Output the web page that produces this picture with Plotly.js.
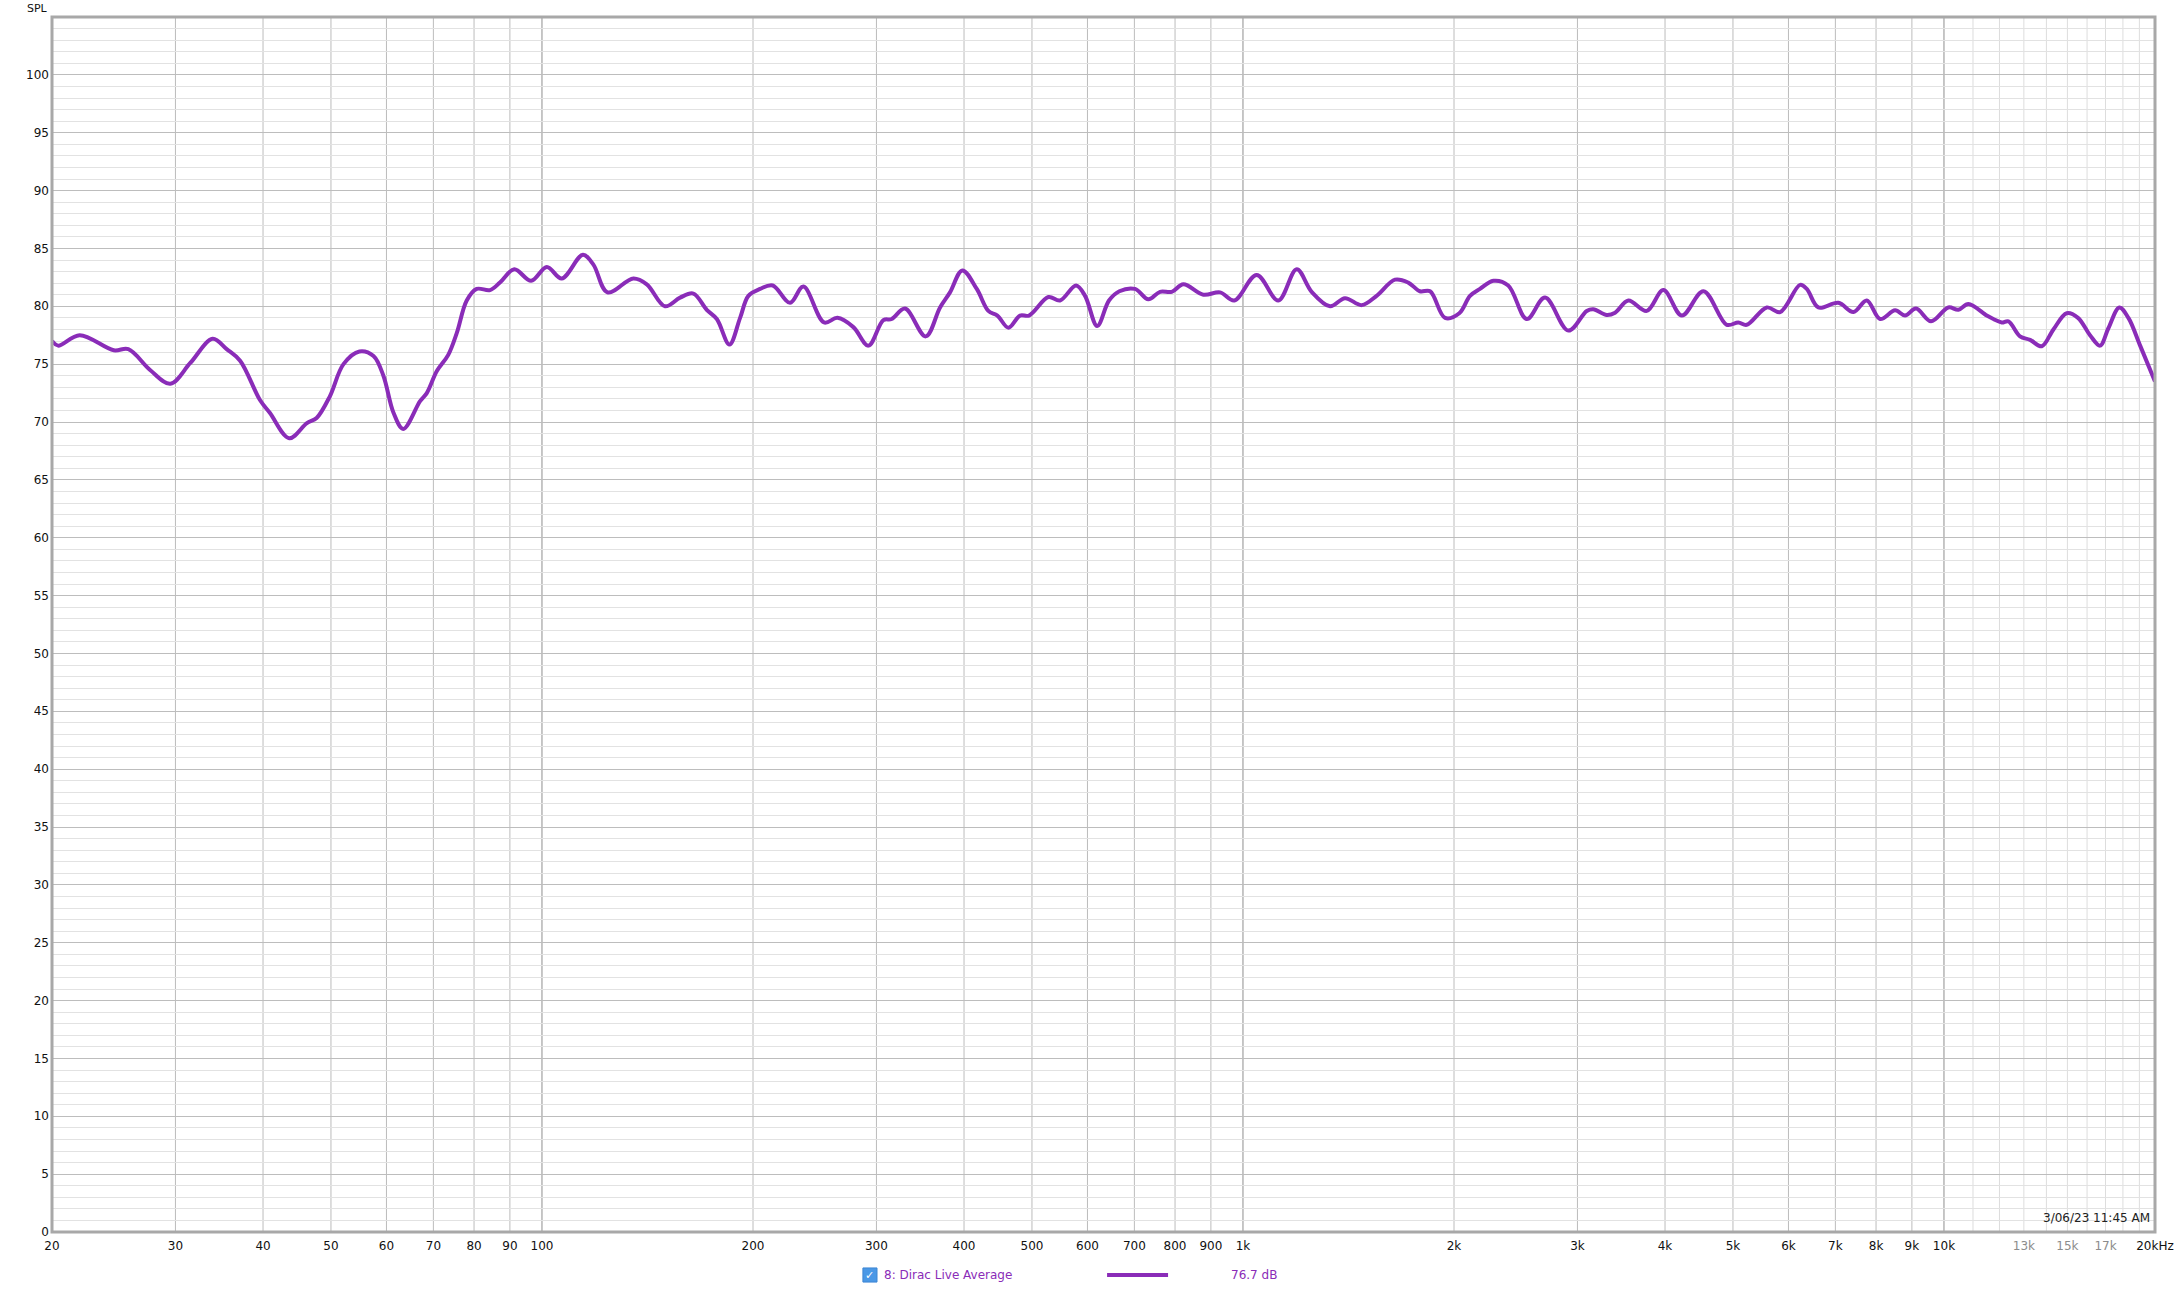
<!DOCTYPE html>
<html>
<head>
<meta charset="utf-8">
<script src="https://cdn.plot.ly/plotly-3.0.1.min.js"></script>
<style>
html,body{margin:0;padding:0;background:#fff;}
#chart{width:2180px;height:1292px;}
</style>
</head>
<body>
<div id="chart"></div>
<script>
// Frequency (Hz) and SPL (dB)
const freq = [20, 20.4, 21.9, 24.5, 25.7, 27.6, 29.5, 31.5, 33.9, 35.5, 37.1, 39.6, 40.9, 43.6, 46.2, 47.7, 49.8, 52.1, 54.9, 57.5, 59.4, 61.4, 63.4,
  67.0, 68.5, 70.8, 73.5, 75.6, 78.1, 80.7, 84.3, 87.1, 91.3, 96.5, 101.6, 106.7, 114.4, 118.4, 124.0, 135.0, 141.1, 149.8, 157.4, 164.4, 171.8, 177.6, 185.1, 191.7, 197.0,
  204.7, 213.4, 225.9, 236.0, 252.6, 263.9, 278.1, 292.2, 306.9, 315.4, 329.5, 352.7, 369.7, 382.0, 397.8, 417.1, 433.3, 446.3, 462.8, 480.8, 495.2, 527.8, 548.3, 578.0, 595.3, 619.5,
  644, 666.3, 701.5, 732.8, 761.5, 791.4, 822.2, 878, 927.4, 971.9, 1046, 1123, 1193, 1253, 1331, 1398, 1477, 1551, 1648, 1721, 1788, 1849, 1942,
  2035, 2108, 2178, 2276, 2390, 2540, 2697, 2912, 3093, 3160, 3303, 3395, 3546, 3767, 3979, 4227, 4538, 4899, 5089, 5231, 5588, 5838, 6234,
  6372, 6620, 7069, 7426, 7760, 8107, 8516, 8800, 9123, 9584, 10144, 10484, 10834, 11508, 11761, 12090, 12357, 12838, 13268, 13789, 14325, 14968, 15530, 16156, 16696, 17159, 17791, 18327, 19048, 20000];
const spl = [77.0, 76.6, 77.5, 76.2, 76.3, 74.5, 73.3, 75.1, 77.2, 76.3, 75.3, 71.9, 70.8, 68.6, 69.9, 70.35, 72.2, 75.0, 76.1, 75.7, 74.0, 70.8, 69.4,
  71.8, 72.5, 74.4, 75.8, 77.7, 80.5, 81.5, 81.4, 82.05, 83.2, 82.2, 83.4, 82.4, 84.45, 83.6, 81.2, 82.4, 81.9, 80.0, 80.75, 81.1, 79.7, 78.9, 76.7, 79.0, 80.9,
  81.5, 81.8, 80.3, 81.7, 78.6, 79.0, 78.2, 76.6, 78.8, 78.9, 79.8, 77.4, 79.9, 81.2, 83.1, 81.5, 79.6, 79.2, 78.15, 79.2, 79.2, 80.8, 80.5, 81.8, 80.9, 78.3,
  80.5, 81.3, 81.5, 80.6, 81.25, 81.25, 81.9, 81.0, 81.2, 80.5, 82.7, 80.5, 83.2, 81.25, 80.0, 80.7, 80.1, 80.9, 82.3, 82.05, 81.3, 81.3, 79.0,
  79.4, 80.9, 81.5, 82.2, 81.8, 78.9, 80.75, 77.9, 79.6, 79.75, 79.25, 79.45, 80.5, 79.6, 81.4, 79.2, 81.3, 78.4, 78.6, 78.4, 79.9, 79.5, 81.85,
  81.5, 79.9, 80.3, 79.5, 80.5, 78.9, 79.65, 79.2, 79.8, 78.7, 79.9, 79.7, 80.2, 79.2, 78.9, 78.6, 78.7, 77.4, 77.1, 76.55, 78.0, 79.4, 79.0, 77.5, 76.6, 78.1, 79.9, 79.0, 76.6, 73.5];

const seriesName = "8: Dirac Live Average";
const seriesLevel = "76.7 dB";
const dateText = "3/06/23 11:45 AM";

const tickVals = [20,30,40,50,60,70,80,90,100,200,300,400,500,600,700,800,900,1000,2000,3000,4000,5000,6000,7000,8000,9000,10000,13000,15000,17000,20000];
const tickText = ["20","30","40","50","60","70","80","90","100","200","300","400","500","600","700","800","900","1k","2k","3k","4k","5k","6k","7k","8k","9k","10k",
  '<span style="fill:#8c8c8c">13k</span>','<span style="fill:#8c8c8c">15k</span>','<span style="fill:#8c8c8c">17k</span>',"20kHz"];
const yTicks = [0,5,10,15,20,25,30,35,40,45,50,55,60,65,70,75,80,85,90,95,100];

const gridMid = [30,40,50,60,70,80,90,200,300,400,500,600,700,800,900,2000,3000,4000,5000,6000,7000,8000,9000];
const gridDecade = [100,1000,10000];
const gridFine = [11000,12000,13000,14000,15000,16000,17000,18000,19000];

const purple = '#8a2cb8';
const shapes = [];
function vline(v, color){
  shapes.push({type:'line', xref:'x', yref:'paper', x0:v, x1:v, y0:0, y1:1, layer:'between', line:{color:color, width:1}});
}
gridFine.forEach(v => vline(v, '#dddddd'));
gridMid.forEach(v => vline(v, '#bcbcbc'));
gridDecade.forEach(v => vline(v, '#8e8e8e'));

// frame with a soft shadow
shapes.push({type:'rect', xref:'paper', yref:'paper', x0:0, x1:1, y0:0, y1:1, layer:'above', line:{color:'#a8a8a8', width:3}});
// legend: checkbox + line sample
shapes.push({type:'rect', xref:'paper', yref:'paper', x0:0.3856, x1:0.3923, y0:-0.0412, y1:-0.0296, layer:'above', fillcolor:'#4a98e6', line:{color:'#3d86d4', width:1}});
shapes.push({type:'line', xref:'paper', yref:'paper', x0:0.5017, x1:0.5307, y0:-0.0354, y1:-0.0354, layer:'above', line:{color:purple, width:4}});

const font = 'DejaVu Sans, Verdana, sans-serif';

const data = [{
  x: freq, y: spl, type:'scatter', mode:'lines',
  line:{color:purple, width:4, shape:'spline', smoothing:1},
  hoverinfo:'x+y', showlegend:false
}];

const layout = {
  width:2180, height:1292,
  margin:{l:52, r:25, t:17, b:60, pad:0},
  paper_bgcolor:'#ffffff', plot_bgcolor:'#ffffff',
  font:{family:font, size:12, color:'#111'},
  showlegend:false,
  xaxis:{
    type:'log', range:[Math.log10(20), Math.log10(20000)],
    tickmode:'array', tickvals:tickVals, ticktext:tickText,
    showgrid:false, zeroline:false, showline:false, ticks:'',
    ticklabelstandoff:5,
    tickfont:{family:font, size:12, color:'#111'}, fixedrange:true
  },
  yaxis:{
    range:[0,105], tickmode:'array', tickvals:yTicks,
    showgrid:true, gridcolor:'#bdbdbd', gridwidth:1,
    minor:{tickmode:'linear', tick0:0, dtick:1, showgrid:true, gridcolor:'#e2e2e2', gridwidth:1, ticks:''},
    zeroline:false, showline:false, ticks:'',
    ticklabelstandoff:2,
    tickfont:{family:font, size:12, color:'#111'}, fixedrange:true
  },
  shapes: shapes,
  annotations:[
    {text:'SPL', xref:'paper', yref:'paper', x:-0.0067, y:1.0074, xanchor:'center', yanchor:'middle', showarrow:false, font:{family:font, size:11, color:'#111'}},
    {text:dateText, xref:'paper', yref:'paper', x:0.9985, y:0.0045, xanchor:'right', yanchor:'bottom', showarrow:false, font:{family:font, size:12, color:'#222'}},
    {text:'✓', xref:'paper', yref:'paper', x:0.38895, y:-0.0354, xanchor:'center', yanchor:'middle', showarrow:false, font:{family:font, size:11, color:'#ffffff'}},
    {text:seriesName, xref:'paper', yref:'paper', x:0.3947, y:-0.0354, xanchor:'left', yanchor:'middle', showarrow:false, font:{family:font, size:12, color:purple}},
    {text:seriesLevel, xref:'paper', yref:'paper', x:0.5597, y:-0.0354, xanchor:'left', yanchor:'middle', showarrow:false, font:{family:font, size:12, color:purple}}
  ]
};

Plotly.newPlot('chart', data, layout, {displayModeBar:false, staticPlot:true});
</script>
</body>
</html>
